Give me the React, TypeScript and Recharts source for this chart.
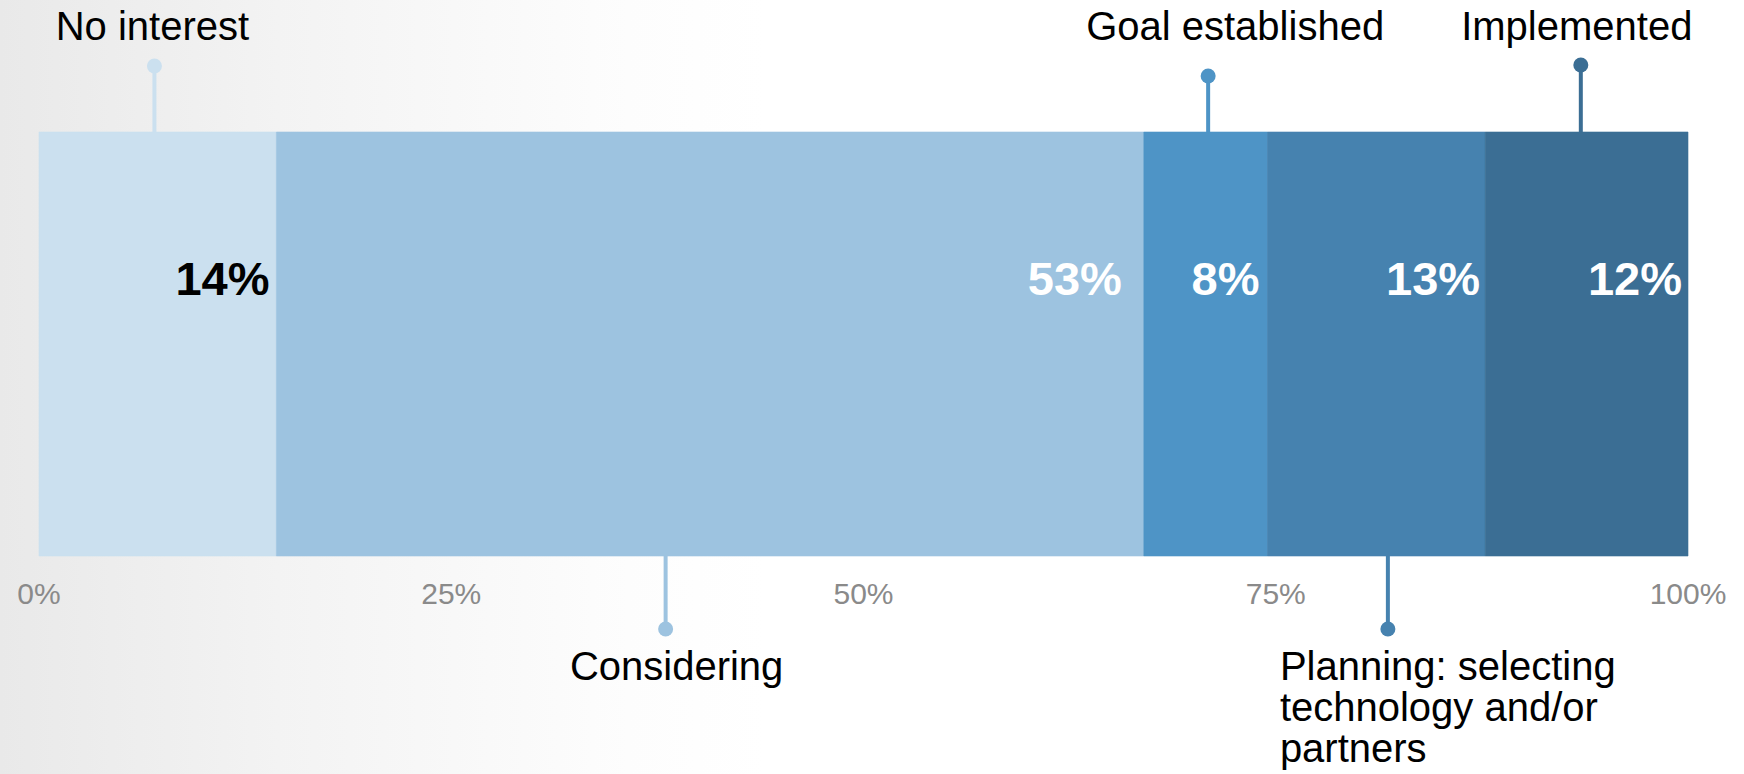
import React from 'react';
import { BarChart, Bar, XAxis, YAxis, LabelList } from 'recharts';

// ---- data ----
const CATEGORY_LINES: string[][] = [
  ['No interest'],
  ['Considering'],
  ['Goal established'],
  ['Planning: selecting', 'technology and/or', 'partners'],
  ['Implemented'],
];
const CATEGORIES = CATEGORY_LINES.map((l) => l.join(' '));
const KEYS = ['noInterest', 'considering', 'goal', 'planning', 'implemented'];
const SHARES = [14.4, 52.6, 7.5, 13.2, 12.3];
const X_TICKS = [0, 25, 50, 75, 100];
const ROWS = ['Adoption stage'];

// ---- styles / annotation layout ----
const COLORS = ['#cbe0ef', '#9dc3e0', '#4e94c6', '#4682af', '#3b6e94'];
const VALUE_COLORS = ['#000000', '#ffffff', '#ffffff', '#ffffff', '#ffffff'];
const VALUE_PAD = [7, 22, 8, 5, 6];
const LEADER_AT = [7.0, 38.0, 70.9, 81.8, 93.5]; // position on the % axis
const LEADER_SIDE = ['top', 'bottom', 'top', 'bottom', 'top'];
const LEADER_STEM = [66, 73, 56, 73, 67];
const LEADER_TEXT_ANCHOR = ['middle', 'middle', 'middle', 'start', 'middle'];
const LEADER_TEXT_DX = [-2, 11, 27, -108, -4];

const FONT = '"Liberation Sans", Arial, Helvetica, sans-serif';

const row: Record<string, any> = { name: ROWS[0] };
KEYS.forEach((k, i) => (row[k] = SHARES[i]));
const data = [row];

const CUM_START = SHARES.map((_, i) => SHARES.slice(0, i).reduce((a, b) => a + b, 0));

const makeContent = (i: number) => (props: any) => {
  const vb = props.viewBox || props;
  const x = Number(vb.x);
  const y = Number(vb.y);
  const w = Number(vb.width);
  const h = Number(vb.height);
  if (!isFinite(x) || !isFinite(w)) return null;
  const color = COLORS[i];
  const px = x + ((LEADER_AT[i] - CUM_START[i]) * w) / SHARES[i];
  const top = LEADER_SIDE[i] === 'top';
  const base = top ? y : y + h;
  const cy = top ? base - LEADER_STEM[i] : base + LEADER_STEM[i];
  const lines = CATEGORY_LINES[i];
  const tx = px + LEADER_TEXT_DX[i];
  return (
    <g>
      <text
        x={x + w - VALUE_PAD[i]}
        y={y + 163}
        textAnchor="end"
        fontSize={47}
        fontWeight={700}
        fontFamily={FONT}
        fill={VALUE_COLORS[i]}
      >
        {`${Math.round(SHARES[i])}%`}
      </text>
      <line x1={px} x2={px} y1={base} y2={cy} stroke={color} strokeWidth={4} />
      <circle cx={px} cy={cy} r={7.5} fill={color} />
      {lines.map((ln, k) => (
        <text
          key={k}
          x={tx}
          y={top ? base - 92 : base + 124 + k * 41}
          textAnchor={LEADER_TEXT_ANCHOR[i] as any}
          fontSize={40}
          fontFamily={FONT}
          fill="#000"
        >
          {ln}
        </text>
      ))}
    </g>
  );
};

export default function App() {
  return (
    <div
      style={{
        position: 'absolute',
        left: 0,
        top: 0,
        width: 1744,
        height: 774,
        overflow: 'hidden',
        background:
          'linear-gradient(to right, #e9e9e9 0%, #eeeeee 8%, #f3f3f3 16%, #f9f9f9 28%, #fdfdfd 36%, #ffffff 44%)',
      }}
    >
      <BarChart
        width={1744}
        height={774}
        data={data}
        layout="vertical"
        barCategoryGap={0}
        margin={{ top: 132, right: 56, bottom: 188, left: 39 }}
        style={{ overflow: 'visible' }}
      >
        <XAxis
          type="number"
          domain={[0, 100]}
          ticks={X_TICKS}
          tickFormatter={(v: number) => `${v}%`}
          axisLine={false}
          tickLine={false}
          tickMargin={21}
          height={30}
          tick={{ fill: '#8a8a8a', fontSize: 30, fontFamily: FONT }}
          interval={0}
        />
        <YAxis type="category" dataKey="name" hide />
        {KEYS.map((k, i) => (
          <Bar
            key={k}
            dataKey={k}
            name={CATEGORIES[i]}
            stackId="s"
            fill={COLORS[i]}
            stroke={COLORS[i]}
            strokeWidth={0.6}
            isAnimationActive={false}
          >
            <LabelList dataKey={k} content={makeContent(i)} />
          </Bar>
        ))}
      </BarChart>
    </div>
  );
}
